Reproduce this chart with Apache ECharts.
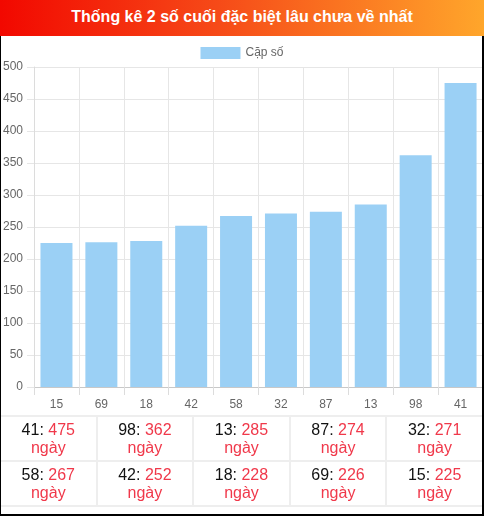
<!DOCTYPE html>
<html><head><meta charset="utf-8">
<script src="https://cdn.jsdelivr.net/npm/echarts@6/dist/echarts.min.js"></script>
<style>
html,body{margin:0;padding:0;width:484px;height:516px;overflow:hidden;background:#fff;font-family:Arial,"Liberation Sans",sans-serif}
#frame{position:absolute;left:0;top:0;width:484px;height:516px;box-sizing:border-box;border-left:1px solid #000;border-right:2px solid #000;border-bottom:2px solid #000;z-index:3;pointer-events:none}
#title{position:absolute;left:0;top:0;width:484px;height:36px;background:linear-gradient(to right,#f20800,#f64a18 45%,#ffa62b);color:#fff;font-weight:bold;font-size:16px;line-height:34px;text-align:center;z-index:4}
#chart{position:absolute;left:0;top:0;width:484px;height:416px}
#tbl{position:absolute;left:1px;top:415px;width:481px;border-collapse:collapse;table-layout:fixed}
#tbl td{width:20%;height:43px;padding:0;text-align:center;vertical-align:middle;font-size:16px;line-height:18px;color:#111;border-top:2px solid #eee;border-left:2px solid #eee}
#tbl td:first-child{border-left:none}
#tbl tr:last-child td{border-bottom:2px solid #eee}
#tbl .r{color:#f0384a}
</style></head>
<body>
<div id="title">Thống kê 2 số cuối đặc biệt lâu chưa về nhất</div>
<div id="chart"></div>
<table id="tbl"></table>
<div id="frame"></div>
<script>
var categories = ['15','69','18','42','58','32','87','13','98','41'];
var values = [225,226,228,252,267,271,274,285,362,475];
var seriesName = 'Cặp số';
var unitText = 'ngày';

var chart = echarts.init(document.getElementById('chart'), null, {renderer:'canvas'});
chart.setOption({
  animation:false,
  textStyle:{fontFamily:'Arial, "Liberation Sans", sans-serif'},
  legend:{data:[seriesName],top:42,left:'center',itemWidth:40,itemHeight:12,itemGap:10,
    textStyle:{color:'#666',fontSize:12},icon:'rect'},
  grid:{left:33,right:1,top:67,bottom:29,containLabel:false},
  xAxis:{type:'category',data:categories,
    axisLine:{show:true,lineStyle:{color:'#c8c8c8'}},
    axisTick:{show:true,length:8,lineStyle:{color:'#dcdcdc'}},
    axisLabel:{color:'#666',fontSize:12,margin:12},
    splitLine:{show:true,lineStyle:{color:'#e6e6e6'}}},
  yAxis:{type:'value',min:0,max:500,interval:50,
    axisLine:{show:true,lineStyle:{color:'#dcdcdc'}},
    axisTick:{show:true,length:7,lineStyle:{color:'#e6e6e6'}},
    axisLabel:{color:'#666',fontSize:12,margin:11},
    splitLine:{show:true,lineStyle:{color:'#e6e6e6'}}},
  series:[{name:seriesName,type:'bar',data:values,barWidth:32,
    itemStyle:{color:'#9bd0f5'}}]
});

// table: sorted descending
var pairs = categories.map(function(c,i){return [c,values[i]];});
pairs.sort(function(a,b){return b[1]-a[1];});
var tbl = document.getElementById('tbl');
for (var r=0;r<2;r++){
  var tr = document.createElement('tr');
  for (var c=0;c<5;c++){
    var p = pairs[r*5+c];
    var td = document.createElement('td');
    td.innerHTML = p[0]+': <span class="r">'+p[1]+'</span><br><span class="r">'+unitText+'</span>';
    tr.appendChild(td);
  }
  tbl.appendChild(tr);
}
</script>
</body></html>
